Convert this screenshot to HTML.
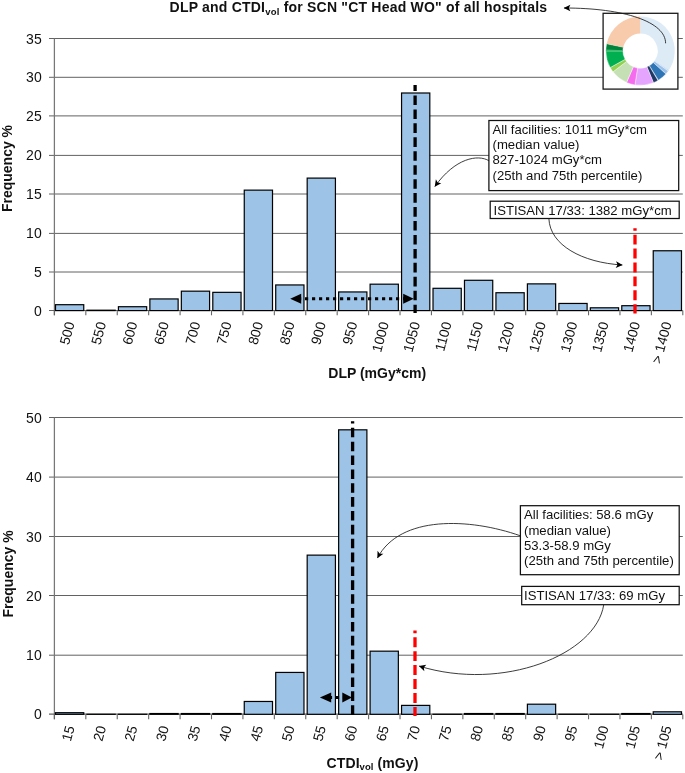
<!DOCTYPE html>
<html><head><meta charset="utf-8"><title>DLP and CTDIvol</title>
<style>html,body{margin:0;padding:0;background:#fff;}svg{display:block;will-change:transform;filter:grayscale(0);}text{font-family:"Liberation Sans",sans-serif;}</style>
</head><body>
<svg width="685" height="773" viewBox="0 0 685 773" font-family="'Liberation Sans', sans-serif" fill="#111">
<defs>
<marker id="ah" viewBox="-8 -4 9 8" markerWidth="9" markerHeight="8" refX="0" refY="0" orient="auto" markerUnits="userSpaceOnUse"><path d="M0.3,0 L-6.4,-3.3 L-4.8,0 L-6.4,3.3 Z" fill="#000"/></marker>
</defs>
<rect width="685" height="773" fill="#fff"/>
<!-- title -->
<text x="169.6" y="12.3" font-size="14" font-weight="bold" textLength="377.5" lengthAdjust="spacing">DLP and CTDI<tspan font-size="9.5" dy="2.5">vol</tspan><tspan dy="-2.5"> for SCN "CT Head WO" of all hospitals</tspan></text>
<!-- chart 1 -->
<line x1="49.00" y1="272.00" x2="682.80" y2="272.00" stroke="#626262" stroke-width="1"/>
<line x1="49.00" y1="233.40" x2="682.80" y2="233.40" stroke="#626262" stroke-width="1"/>
<line x1="49.00" y1="194.00" x2="682.80" y2="194.00" stroke="#626262" stroke-width="1"/>
<line x1="49.00" y1="155.40" x2="682.80" y2="155.40" stroke="#626262" stroke-width="1"/>
<line x1="49.00" y1="115.90" x2="682.80" y2="115.90" stroke="#626262" stroke-width="1"/>
<line x1="49.00" y1="77.30" x2="682.80" y2="77.30" stroke="#626262" stroke-width="1"/>
<line x1="49.00" y1="38.50" x2="682.80" y2="38.50" stroke="#626262" stroke-width="1"/>
<text x="41.7" y="315.50" text-anchor="end" font-size="14">0</text>
<text x="41.7" y="277.00" text-anchor="end" font-size="14">5</text>
<text x="41.7" y="238.40" text-anchor="end" font-size="14">10</text>
<text x="41.7" y="199.00" text-anchor="end" font-size="14">15</text>
<text x="41.7" y="160.40" text-anchor="end" font-size="14">20</text>
<text x="41.7" y="120.90" text-anchor="end" font-size="14">25</text>
<text x="41.7" y="82.30" text-anchor="end" font-size="14">30</text>
<text x="41.7" y="43.50" text-anchor="end" font-size="14">35</text>
<line x1="54.40" y1="38.50" x2="54.40" y2="315.30" stroke="#777" stroke-width="1.25"/>
<line x1="49.00" y1="310.50" x2="682.80" y2="310.50" stroke="#626262" stroke-width="1.2"/>
<line x1="54.40" y1="310.50" x2="54.40" y2="315.30" stroke="#666" stroke-width="1.1"/>
<line x1="85.82" y1="310.50" x2="85.82" y2="315.30" stroke="#666" stroke-width="1.1"/>
<line x1="117.24" y1="310.50" x2="117.24" y2="315.30" stroke="#666" stroke-width="1.1"/>
<line x1="148.66" y1="310.50" x2="148.66" y2="315.30" stroke="#666" stroke-width="1.1"/>
<line x1="180.08" y1="310.50" x2="180.08" y2="315.30" stroke="#666" stroke-width="1.1"/>
<line x1="211.50" y1="310.50" x2="211.50" y2="315.30" stroke="#666" stroke-width="1.1"/>
<line x1="242.92" y1="310.50" x2="242.92" y2="315.30" stroke="#666" stroke-width="1.1"/>
<line x1="274.34" y1="310.50" x2="274.34" y2="315.30" stroke="#666" stroke-width="1.1"/>
<line x1="305.76" y1="310.50" x2="305.76" y2="315.30" stroke="#666" stroke-width="1.1"/>
<line x1="337.18" y1="310.50" x2="337.18" y2="315.30" stroke="#666" stroke-width="1.1"/>
<line x1="368.60" y1="310.50" x2="368.60" y2="315.30" stroke="#666" stroke-width="1.1"/>
<line x1="400.02" y1="310.50" x2="400.02" y2="315.30" stroke="#666" stroke-width="1.1"/>
<line x1="431.44" y1="310.50" x2="431.44" y2="315.30" stroke="#666" stroke-width="1.1"/>
<line x1="462.86" y1="310.50" x2="462.86" y2="315.30" stroke="#666" stroke-width="1.1"/>
<line x1="494.28" y1="310.50" x2="494.28" y2="315.30" stroke="#666" stroke-width="1.1"/>
<line x1="525.70" y1="310.50" x2="525.70" y2="315.30" stroke="#666" stroke-width="1.1"/>
<line x1="557.12" y1="310.50" x2="557.12" y2="315.30" stroke="#666" stroke-width="1.1"/>
<line x1="588.54" y1="310.50" x2="588.54" y2="315.30" stroke="#666" stroke-width="1.1"/>
<line x1="619.96" y1="310.50" x2="619.96" y2="315.30" stroke="#666" stroke-width="1.1"/>
<line x1="651.38" y1="310.50" x2="651.38" y2="315.30" stroke="#666" stroke-width="1.1"/>
<line x1="682.80" y1="310.50" x2="682.80" y2="315.30" stroke="#666" stroke-width="1.1"/>
<rect x="55.50" y="304.69" width="28.25" height="5.91" fill="#9DC3E6" stroke="#000" stroke-width="1.2"/>
<rect x="86.96" y="310.21" width="28.25" height="0.39" fill="#9DC3E6" stroke="#000" stroke-width="1.2"/>
<rect x="118.42" y="306.71" width="28.25" height="3.89" fill="#9DC3E6" stroke="#000" stroke-width="1.2"/>
<rect x="149.88" y="298.94" width="28.25" height="11.66" fill="#9DC3E6" stroke="#000" stroke-width="1.2"/>
<rect x="181.34" y="291.17" width="28.25" height="19.43" fill="#9DC3E6" stroke="#000" stroke-width="1.2"/>
<rect x="212.80" y="292.34" width="28.25" height="18.26" fill="#9DC3E6" stroke="#000" stroke-width="1.2"/>
<rect x="244.26" y="190.14" width="28.25" height="120.46" fill="#9DC3E6" stroke="#000" stroke-width="1.2"/>
<rect x="275.72" y="284.95" width="28.25" height="25.65" fill="#9DC3E6" stroke="#000" stroke-width="1.2"/>
<rect x="307.18" y="178.10" width="28.25" height="132.50" fill="#9DC3E6" stroke="#000" stroke-width="1.2"/>
<rect x="338.64" y="291.95" width="28.25" height="18.65" fill="#9DC3E6" stroke="#000" stroke-width="1.2"/>
<rect x="370.10" y="284.18" width="28.25" height="26.42" fill="#9DC3E6" stroke="#000" stroke-width="1.2"/>
<rect x="401.56" y="93.00" width="28.25" height="217.60" fill="#9DC3E6" stroke="#000" stroke-width="1.2"/>
<rect x="433.02" y="288.30" width="28.25" height="22.30" fill="#9DC3E6" stroke="#000" stroke-width="1.2"/>
<rect x="464.48" y="280.29" width="28.25" height="30.31" fill="#9DC3E6" stroke="#000" stroke-width="1.2"/>
<rect x="495.94" y="292.73" width="28.25" height="17.87" fill="#9DC3E6" stroke="#000" stroke-width="1.2"/>
<rect x="527.40" y="283.87" width="28.25" height="26.73" fill="#9DC3E6" stroke="#000" stroke-width="1.2"/>
<rect x="558.86" y="303.45" width="28.25" height="7.15" fill="#9DC3E6" stroke="#000" stroke-width="1.2"/>
<rect x="590.32" y="307.80" width="28.25" height="2.80" fill="#9DC3E6" stroke="#000" stroke-width="1.2"/>
<rect x="621.78" y="305.70" width="28.25" height="4.90" fill="#9DC3E6" stroke="#000" stroke-width="1.2"/>
<rect x="653.24" y="250.76" width="28.25" height="59.84" fill="#9DC3E6" stroke="#000" stroke-width="1.2"/>
<text transform="translate(74.71,323.25) rotate(-75)" text-anchor="end" font-size="13.85">500</text>
<text transform="translate(106.13,323.25) rotate(-75)" text-anchor="end" font-size="13.85">550</text>
<text transform="translate(137.55,323.25) rotate(-75)" text-anchor="end" font-size="13.85">600</text>
<text transform="translate(168.97,323.25) rotate(-75)" text-anchor="end" font-size="13.85">650</text>
<text transform="translate(200.39,323.25) rotate(-75)" text-anchor="end" font-size="13.85">700</text>
<text transform="translate(231.81,323.25) rotate(-75)" text-anchor="end" font-size="13.85">750</text>
<text transform="translate(263.23,323.25) rotate(-75)" text-anchor="end" font-size="13.85">800</text>
<text transform="translate(294.65,323.25) rotate(-75)" text-anchor="end" font-size="13.85">850</text>
<text transform="translate(326.07,323.25) rotate(-75)" text-anchor="end" font-size="13.85">900</text>
<text transform="translate(357.49,323.25) rotate(-75)" text-anchor="end" font-size="13.85">950</text>
<text transform="translate(388.91,323.25) rotate(-75)" text-anchor="end" font-size="13.85">1000</text>
<text transform="translate(420.33,323.25) rotate(-75)" text-anchor="end" font-size="13.85">1050</text>
<text transform="translate(451.75,323.25) rotate(-75)" text-anchor="end" font-size="13.85">1100</text>
<text transform="translate(483.17,323.25) rotate(-75)" text-anchor="end" font-size="13.85">1150</text>
<text transform="translate(514.59,323.25) rotate(-75)" text-anchor="end" font-size="13.85">1200</text>
<text transform="translate(546.01,323.25) rotate(-75)" text-anchor="end" font-size="13.85">1250</text>
<text transform="translate(577.43,323.25) rotate(-75)" text-anchor="end" font-size="13.85">1300</text>
<text transform="translate(608.85,323.25) rotate(-75)" text-anchor="end" font-size="13.85">1350</text>
<text transform="translate(640.27,323.25) rotate(-75)" text-anchor="end" font-size="13.85">1400</text>
<text transform="translate(671.69,323.25) rotate(-75)" text-anchor="end" font-size="13.85">&gt; 1400</text>
<text transform="translate(11.7,212.1) rotate(-90)" font-size="14" font-weight="bold">Frequency %</text>
<text x="377.2" y="378.3" text-anchor="middle" font-size="14" font-weight="bold">DLP (mGy*cm)</text>
<!-- chart 1 annotations -->
<line x1="415.1" y1="85.1" x2="415.1" y2="312.9" stroke="#000" stroke-width="3.3" stroke-dasharray="9.6 4.35" stroke-dashoffset="3.6"/>
<line x1="635.0" y1="228.3" x2="635.0" y2="313.5" stroke="#FF0000" stroke-width="3.3" stroke-dasharray="9.9 4.0" stroke-dashoffset="7.5"/>
<line x1="298" y1="298.7" x2="404" y2="298.7" stroke="#000" stroke-width="3.0" stroke-dasharray="3.2 3.8"/>
<path d="M290.2,298.7 L301.2,293.7 L301.2,303.7 Z" fill="#000"/>
<path d="M413.7,298.7 L403.2,293.7 L403.2,303.7 Z" fill="#000"/>
<rect x="488.9" y="120.5" width="189.8" height="70.1" fill="#fff" stroke="#111" stroke-width="1.25"/>
<text font-size="13.15" x="492.5" y="134.2">All facilities: 1011 mGy*cm</text>
<text font-size="13.15" x="492.5" y="149.3">(median value)</text>
<text font-size="13.15" x="492.5" y="164.4">827-1024 mGy*cm</text>
<text font-size="13.15" x="492.5" y="179.5">(25th and 75th percentile)</text>
<rect x="490.2" y="201.2" width="189.0" height="17.3" fill="#fff" stroke="#111" stroke-width="1.25"/>
<text font-size="13.15" x="493.5" y="214.9">ISTISAN 17/33: 1382 mGy*cm</text>
<path d="M489,160.8 C478,154 455,158 434.9,186.5" fill="none" stroke="#1a1a1a" stroke-width="0.85" marker-end="url(#ah)"/>
<path d="M548.9,218.8 C550,245 582,262.6 622.3,265" fill="none" stroke="#1a1a1a" stroke-width="0.85" marker-end="url(#ah)"/>
<!-- donut -->
<rect x="603.1" y="13.3" width="74.8" height="75.8" fill="#fff" stroke="#1a1a1a" stroke-width="1.3"/>
<path d="M640.30,16.50 A34.4,34.4 0 0 1 668.99,69.89 L654.81,60.50 A17.4,17.4 0 0 0 640.30,33.50 Z" fill="#DDEBF7" stroke="none" stroke-width="0.4"/>
<path d="M668.99,69.89 A34.4,34.4 0 0 1 668.24,70.97 L654.43,61.05 A17.4,17.4 0 0 0 654.81,60.50 Z" fill="#C6DCF2" stroke="none" stroke-width="0.4"/>
<path d="M668.24,70.97 A34.4,34.4 0 0 1 665.86,73.92 L653.23,62.54 A17.4,17.4 0 0 0 654.43,61.05 Z" fill="#9CC2EA" stroke="#fff" stroke-width="0.4"/>
<path d="M665.86,73.92 A34.4,34.4 0 0 1 658.38,80.17 L649.44,65.70 A17.4,17.4 0 0 0 653.23,62.54 Z" fill="#2E75B6" stroke="#fff" stroke-width="0.4"/>
<path d="M657.91,80.45 A34.4,34.4 0 0 1 653.46,82.68 L646.96,66.98 A17.4,17.4 0 0 0 649.21,65.85 Z" fill="#1F3864" stroke="#fff" stroke-width="0.4"/>
<path d="M653.46,82.68 A34.4,34.4 0 0 1 634.92,84.88 L637.58,68.09 A17.4,17.4 0 0 0 646.96,66.98 Z" fill="#E5A5FF" stroke="#fff" stroke-width="0.4"/>
<path d="M634.92,84.88 A34.4,34.4 0 0 1 626.58,82.45 L633.36,66.86 A17.4,17.4 0 0 0 637.58,68.09 Z" fill="#F56CEF" stroke="#fff" stroke-width="0.4"/>
<path d="M626.58,82.45 A34.4,34.4 0 0 1 613.01,71.84 L626.50,61.49 A17.4,17.4 0 0 0 633.36,66.86 Z" fill="#C5E0B4" stroke="#fff" stroke-width="0.4"/>
<path d="M613.01,71.84 A34.4,34.4 0 0 1 610.21,67.58 L625.08,59.34 A17.4,17.4 0 0 0 626.50,61.49 Z" fill="#92D050" stroke="#fff" stroke-width="0.4"/>
<path d="M610.21,67.58 A34.4,34.4 0 0 1 605.90,50.90 L622.90,50.90 A17.4,17.4 0 0 0 625.08,59.34 Z" fill="#00B050" stroke="#fff" stroke-width="0.4"/>
<path d="M605.90,50.90 A34.4,34.4 0 0 1 606.65,43.75 L623.28,47.28 A17.4,17.4 0 0 0 622.90,50.90 Z" fill="#00843C" stroke="#fff" stroke-width="0.4"/>
<path d="M606.65,43.75 A34.4,34.4 0 0 1 640.30,16.50 L640.30,33.50 A17.4,17.4 0 0 0 623.28,47.28 Z" fill="#F8CBAD" stroke="none" stroke-width="0.4"/>
<path d="M605.91,51.56 A34.4,34.4 0 0 1 605.93,49.52 L622.91,50.20 A17.4,17.4 0 0 0 622.90,51.23 Z" fill="#3DBE6E" stroke="none" stroke-width="0.4"/>
<path d="M665.6,43.3 C665.6,22 625,8 564,8" fill="none" stroke="#1a1a1a" stroke-width="0.85" marker-end="url(#ah)"/>
<!-- chart 2 -->
<line x1="49.00" y1="655.20" x2="682.80" y2="655.20" stroke="#626262" stroke-width="1"/>
<line x1="49.00" y1="595.50" x2="682.80" y2="595.50" stroke="#626262" stroke-width="1"/>
<line x1="49.00" y1="536.50" x2="682.80" y2="536.50" stroke="#626262" stroke-width="1"/>
<line x1="49.00" y1="477.10" x2="682.80" y2="477.10" stroke="#626262" stroke-width="1"/>
<line x1="49.00" y1="417.50" x2="682.80" y2="417.50" stroke="#626262" stroke-width="1"/>
<text x="41.7" y="719.20" text-anchor="end" font-size="14">0</text>
<text x="41.7" y="660.20" text-anchor="end" font-size="14">10</text>
<text x="41.7" y="600.50" text-anchor="end" font-size="14">20</text>
<text x="41.7" y="541.50" text-anchor="end" font-size="14">30</text>
<text x="41.7" y="482.10" text-anchor="end" font-size="14">40</text>
<text x="41.7" y="422.50" text-anchor="end" font-size="14">50</text>
<line x1="54.40" y1="417.50" x2="54.40" y2="719.25" stroke="#777" stroke-width="1.25"/>
<line x1="49.00" y1="714.15" x2="682.80" y2="714.15" stroke="#626262" stroke-width="1.2"/>
<line x1="54.40" y1="714.45" x2="54.40" y2="719.25" stroke="#666" stroke-width="1.1"/>
<line x1="85.82" y1="714.45" x2="85.82" y2="719.25" stroke="#666" stroke-width="1.1"/>
<line x1="117.24" y1="714.45" x2="117.24" y2="719.25" stroke="#666" stroke-width="1.1"/>
<line x1="148.66" y1="714.45" x2="148.66" y2="719.25" stroke="#666" stroke-width="1.1"/>
<line x1="180.08" y1="714.45" x2="180.08" y2="719.25" stroke="#666" stroke-width="1.1"/>
<line x1="211.50" y1="714.45" x2="211.50" y2="719.25" stroke="#666" stroke-width="1.1"/>
<line x1="242.92" y1="714.45" x2="242.92" y2="719.25" stroke="#666" stroke-width="1.1"/>
<line x1="274.34" y1="714.45" x2="274.34" y2="719.25" stroke="#666" stroke-width="1.1"/>
<line x1="305.76" y1="714.45" x2="305.76" y2="719.25" stroke="#666" stroke-width="1.1"/>
<line x1="337.18" y1="714.45" x2="337.18" y2="719.25" stroke="#666" stroke-width="1.1"/>
<line x1="368.60" y1="714.45" x2="368.60" y2="719.25" stroke="#666" stroke-width="1.1"/>
<line x1="400.02" y1="714.45" x2="400.02" y2="719.25" stroke="#666" stroke-width="1.1"/>
<line x1="431.44" y1="714.45" x2="431.44" y2="719.25" stroke="#666" stroke-width="1.1"/>
<line x1="462.86" y1="714.45" x2="462.86" y2="719.25" stroke="#666" stroke-width="1.1"/>
<line x1="494.28" y1="714.45" x2="494.28" y2="719.25" stroke="#666" stroke-width="1.1"/>
<line x1="525.70" y1="714.45" x2="525.70" y2="719.25" stroke="#666" stroke-width="1.1"/>
<line x1="557.12" y1="714.45" x2="557.12" y2="719.25" stroke="#666" stroke-width="1.1"/>
<line x1="588.54" y1="714.45" x2="588.54" y2="719.25" stroke="#666" stroke-width="1.1"/>
<line x1="619.96" y1="714.45" x2="619.96" y2="719.25" stroke="#666" stroke-width="1.1"/>
<line x1="651.38" y1="714.45" x2="651.38" y2="719.25" stroke="#666" stroke-width="1.1"/>
<line x1="682.80" y1="714.45" x2="682.80" y2="719.25" stroke="#666" stroke-width="1.1"/>
<rect x="55.50" y="712.70" width="28.25" height="1.60" fill="#9DC3E6" stroke="#000" stroke-width="1.2"/>
<rect x="86.96" y="714.28" width="28.25" height="0.02" fill="#9DC3E6" stroke="#000" stroke-width="1.2"/>
<rect x="118.42" y="714.28" width="28.25" height="0.02" fill="#9DC3E6" stroke="#000" stroke-width="1.2"/>
<rect x="149.88" y="713.53" width="28.25" height="0.77" fill="#9DC3E6" stroke="#000" stroke-width="1.2"/>
<rect x="181.34" y="713.53" width="28.25" height="0.77" fill="#9DC3E6" stroke="#000" stroke-width="1.2"/>
<rect x="212.80" y="713.53" width="28.25" height="0.77" fill="#9DC3E6" stroke="#000" stroke-width="1.2"/>
<rect x="244.26" y="701.47" width="28.25" height="12.83" fill="#9DC3E6" stroke="#000" stroke-width="1.2"/>
<rect x="275.72" y="672.43" width="28.25" height="41.87" fill="#9DC3E6" stroke="#000" stroke-width="1.2"/>
<rect x="307.18" y="555.13" width="28.25" height="159.17" fill="#9DC3E6" stroke="#000" stroke-width="1.2"/>
<rect x="338.64" y="429.82" width="28.25" height="284.48" fill="#9DC3E6" stroke="#000" stroke-width="1.2"/>
<rect x="370.10" y="651.17" width="28.25" height="63.13" fill="#9DC3E6" stroke="#000" stroke-width="1.2"/>
<rect x="401.56" y="705.39" width="28.25" height="8.91" fill="#9DC3E6" stroke="#000" stroke-width="1.2"/>
<rect x="433.02" y="714.28" width="28.25" height="0.02" fill="#9DC3E6" stroke="#000" stroke-width="1.2"/>
<rect x="464.48" y="713.53" width="28.25" height="0.77" fill="#9DC3E6" stroke="#000" stroke-width="1.2"/>
<rect x="495.94" y="713.53" width="28.25" height="0.77" fill="#9DC3E6" stroke="#000" stroke-width="1.2"/>
<rect x="527.40" y="704.20" width="28.25" height="10.10" fill="#9DC3E6" stroke="#000" stroke-width="1.2"/>
<rect x="558.86" y="714.28" width="28.25" height="0.02" fill="#9DC3E6" stroke="#000" stroke-width="1.2"/>
<rect x="590.32" y="714.28" width="28.25" height="0.02" fill="#9DC3E6" stroke="#000" stroke-width="1.2"/>
<rect x="621.78" y="713.53" width="28.25" height="0.77" fill="#9DC3E6" stroke="#000" stroke-width="1.2"/>
<rect x="653.24" y="711.81" width="28.25" height="2.49" fill="#9DC3E6" stroke="#000" stroke-width="1.2"/>
<text transform="translate(74.71,727.20) rotate(-75)" text-anchor="end" font-size="13.85">15</text>
<text transform="translate(106.13,727.20) rotate(-75)" text-anchor="end" font-size="13.85">20</text>
<text transform="translate(137.55,727.20) rotate(-75)" text-anchor="end" font-size="13.85">25</text>
<text transform="translate(168.97,727.20) rotate(-75)" text-anchor="end" font-size="13.85">30</text>
<text transform="translate(200.39,727.20) rotate(-75)" text-anchor="end" font-size="13.85">35</text>
<text transform="translate(231.81,727.20) rotate(-75)" text-anchor="end" font-size="13.85">40</text>
<text transform="translate(263.23,727.20) rotate(-75)" text-anchor="end" font-size="13.85">45</text>
<text transform="translate(294.65,727.20) rotate(-75)" text-anchor="end" font-size="13.85">50</text>
<text transform="translate(326.07,727.20) rotate(-75)" text-anchor="end" font-size="13.85">55</text>
<text transform="translate(357.49,727.20) rotate(-75)" text-anchor="end" font-size="13.85">60</text>
<text transform="translate(388.91,727.20) rotate(-75)" text-anchor="end" font-size="13.85">65</text>
<text transform="translate(420.33,727.20) rotate(-75)" text-anchor="end" font-size="13.85">70</text>
<text transform="translate(451.75,727.20) rotate(-75)" text-anchor="end" font-size="13.85">75</text>
<text transform="translate(483.17,727.20) rotate(-75)" text-anchor="end" font-size="13.85">80</text>
<text transform="translate(514.59,727.20) rotate(-75)" text-anchor="end" font-size="13.85">85</text>
<text transform="translate(546.01,727.20) rotate(-75)" text-anchor="end" font-size="13.85">90</text>
<text transform="translate(577.43,727.20) rotate(-75)" text-anchor="end" font-size="13.85">95</text>
<text transform="translate(608.85,727.20) rotate(-75)" text-anchor="end" font-size="13.85">100</text>
<text transform="translate(640.27,727.20) rotate(-75)" text-anchor="end" font-size="13.85">105</text>
<text transform="translate(671.69,727.20) rotate(-75)" text-anchor="end" font-size="13.85">&gt; 105</text>
<text transform="translate(12.5,617.5) rotate(-90)" font-size="14" font-weight="bold">Frequency %</text>
<text x="326.6" y="767.5" textLength="91.7" lengthAdjust="spacing" font-size="14" font-weight="bold">CTDI<tspan font-size="9.5" dy="2.5">vol</tspan><tspan dy="-2.5"> (mGy)</tspan></text>
<line x1="352.6" y1="421.2" x2="352.6" y2="715.2" stroke="#000" stroke-width="3.3" stroke-dasharray="9.6 4.27" stroke-dashoffset="7.3"/>
<line x1="415.0" y1="630.6" x2="415.0" y2="716" stroke="#FF0000" stroke-width="3.3" stroke-dasharray="9.9 4.04" stroke-dashoffset="7.3"/>
<line x1="328.9" y1="697.5" x2="346" y2="697.5" stroke="#000" stroke-width="3.0" stroke-dasharray="3.2 3.8"/>
<path d="M319.9,697.5 L331.2,692.5 L331.2,702.5 Z" fill="#000"/>
<path d="M352.0,697.5 L342.3,692.6 L342.3,702.4 Z" fill="#000"/>
<rect x="520.4" y="505.7" width="158.8" height="69.0" fill="#fff" stroke="#111" stroke-width="1.25"/>
<text font-size="13.15" x="524" y="519.4">All facilities: 58.6 mGy</text>
<text font-size="13.15" x="524" y="534.6">(median value)</text>
<text font-size="13.15" x="524" y="549.9">53.3-58.9 mGy</text>
<text font-size="13.15" x="524" y="565.2">(25th and 75th percentile)</text>
<rect x="521.7" y="586.4" width="157.5" height="18.3" fill="#fff" stroke="#111" stroke-width="1.25"/>
<text font-size="13.15" x="524" y="600.3">ISTISAN 17/33: 69 mGy</text>
<path d="M520,535.7 C470,518 400,515 377.5,557.9" fill="none" stroke="#1a1a1a" stroke-width="0.85" marker-end="url(#ah)"/>
<path d="M603.7,604.9 C596,654.5 503,692 419.2,666.1" fill="none" stroke="#1a1a1a" stroke-width="0.85" marker-end="url(#ah)"/>
</svg>
</body></html>
